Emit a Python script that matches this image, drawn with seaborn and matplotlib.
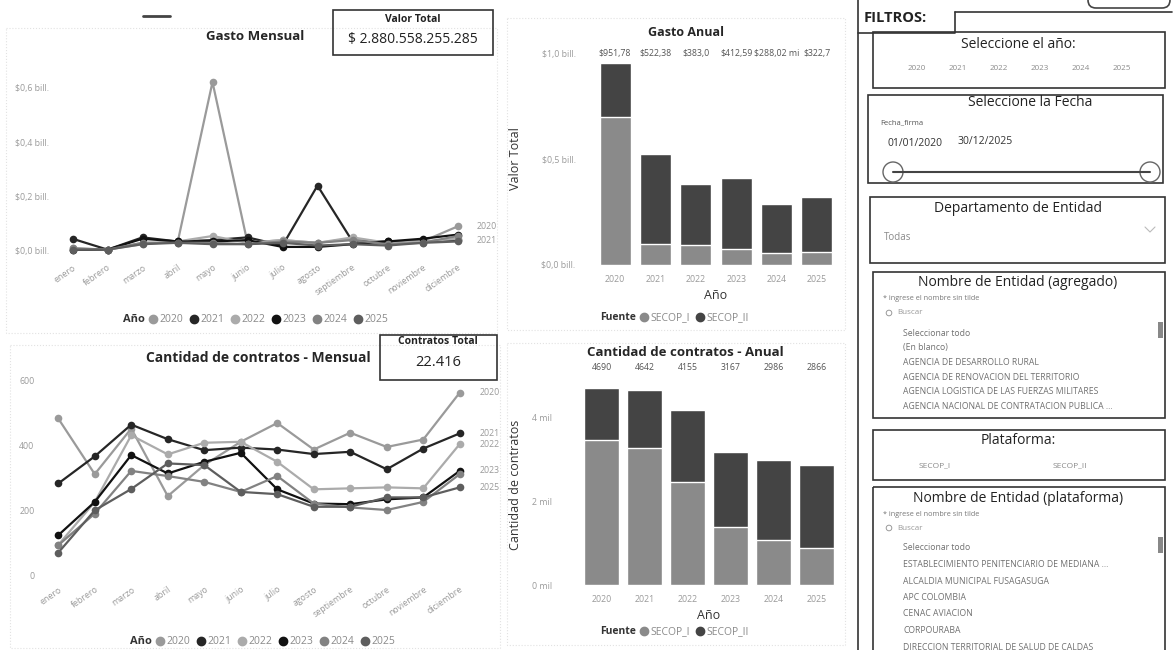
import numpy as np
import pandas as pd
import matplotlib
matplotlib.use("Agg")
import matplotlib.pyplot as plt
from matplotlib.patches import Rectangle, Circle, FancyBboxPatch
from matplotlib.lines import Line2D
from matplotlib.transforms import blended_transform_factory
import seaborn as sns

# ---------------- data ----------------
meses = ["enero", "febrero", "marzo", "abril", "mayo", "junio", "julio",
         "agosto", "septiembre", "octubre", "noviembre", "diciembre"]
anios = ["2020", "2021", "2022", "2023", "2024", "2025"]

# gasto mensual (billones de pesos)
gasto_2020 = [0.005, 0.005, 0.030, 0.030, 0.620, 0.030, 0.040, 0.030, 0.045, 0.030, 0.035, 0.090]
gasto_2021 = [0.045, 0.005, 0.050, 0.035, 0.040, 0.050, 0.020, 0.240, 0.035, 0.035, 0.035, 0.040]
gasto_2022 = [0.010, 0.005, 0.025, 0.035, 0.055, 0.030, 0.040, 0.030, 0.050, 0.030, 0.035, 0.045]
gasto_2023 = [0.005, 0.005, 0.045, 0.035, 0.035, 0.040, 0.015, 0.015, 0.025, 0.035, 0.045, 0.060]
gasto_2024 = [0.010, 0.005, 0.030, 0.030, 0.030, 0.025, 0.035, 0.030, 0.040, 0.025, 0.030, 0.055]
gasto_2025 = [0.005, 0.005, 0.025, 0.030, 0.025, 0.025, 0.030, 0.020, 0.025, 0.020, 0.030, 0.035]
gasto_series = [gasto_2020, gasto_2021, gasto_2022, gasto_2023, gasto_2024, gasto_2025]
gasto_etiquetas_fin = ["2020", "2021"]

# cantidad de contratos mensual
contratos_2020 = [484, 312, 453, 244, 340, 412, 470, 388, 440, 396, 419, 564]
contratos_2021 = [283, 367, 465, 420, 386, 394, 388, 374, 381, 327, 391, 438]
contratos_2022 = [93, 226, 432, 373, 409, 412, 350, 265, 268, 271, 268, 405]
contratos_2023 = [123, 226, 371, 314, 350, 378, 265, 221, 219, 234, 240, 322]
contratos_2024 = [92, 190, 322, 306, 288, 257, 306, 221, 209, 201, 226, 312]
contratos_2025 = [69, 200, 266, 345, 340, 257, 250, 211, 211, 240, 240, 271]
contratos_series = [contratos_2020, contratos_2021, contratos_2022,
                    contratos_2023, contratos_2024, contratos_2025]
contratos_etiquetas_fin = ["2020", "2021", "2022", "2023", "2025"]

# gasto anual (mil millones de pesos)
gasto_anual_total = [951.78, 522.38, 383.0, 412.59, 288.02, 322.7]
gasto_anual_secop1 = [700.0, 100.0, 92.0, 75.0, 55.0, 60.0]
gasto_anual_etiquetas = ["$951,78", "$522,38", "$383,0", "$412,59", "$288,02 mi", "$322,7"]

# contratos anual
contratos_anual_total = [4690, 4642, 4155, 3167, 2986, 2866]
contratos_anual_secop1 = [3450, 3260, 2450, 1380, 1070, 880]

valor_total_txt = "$ 2.880.558.255.285"
contratos_total_txt = "22.416"

anios_slicer = ["2020", "2021", "2022", "2023", "2024", "2025"]
entidades_agregado = ["Seleccionar todo", "(En blanco)", "AGENCIA DE DESARROLLO RURAL",
                      "AGENCIA DE RENOVACION DEL TERRITORIO",
                      "AGENCIA LOGISTICA DE LAS FUERZAS MILITARES",
                      "AGENCIA NACIONAL DE CONTRATACION PUBLICA ..."]
entidades_plataforma = ["Seleccionar todo", "ESTABLECIMIENTO PENITENCIARIO DE MEDIANA ...",
                        "ALCALDIA MUNICIPAL FUSAGASUGA", "APC COLOMBIA", "CENAC AVIACION",
                        "CORPOURABA", "DIRECCION TERRITORIAL DE SALUD DE CALDAS"]

# ---------------- style ----------------
sns.set_theme(style="white")
plt.rcParams["font.family"] = ["Open Sans", "DejaVu Sans"]

anio_colores = {"2020": "#9a9a9a", "2021": "#262626", "2022": "#ababab",
                "2023": "#111111", "2024": "#828282", "2025": "#5e5e5e"}
c_secop1 = "#8a8a8a"
c_secop2 = "#444444"
gris_tick = "#9a9a9a"

W, H = 1176, 650


def rect(l, t, r, b):
    return [l / W, 1 - b / H, (r - l) / W, (b - t) / H]


def fx(x):
    return x / W


def fy(y):
    return 1 - y / H


fig = plt.figure(figsize=(W / 100, H / 100), dpi=100, facecolor="white")

# background layer for boxes, titles and slicers
bg = fig.add_axes([0, 0, 1, 1])
bg.set_xlim(0, W)
bg.set_ylim(H, 0)
bg.axis("off")


def box(l, t, r, b, color="#333333", lw=1.2, ls="-"):
    bg.add_patch(Rectangle((l, t), r - l, b - t, fill=False, ec=color, lw=lw, ls=ls))


# panel borders (faint)
for l, t, r, b in [(6, 28, 497, 333), (507, 18, 845, 330), (10, 345, 500, 648), (507, 343, 845, 645)]:
    box(l, t, r, b, color="#e2e2e2", lw=0.8, ls=":")

bg.plot([143, 170], [16, 16], color="#444444", lw=2)

# KPI cards
box(333, 10, 493, 55)
bg.text(413, 19, "Valor Total", ha="center", va="center", fontsize=7.5, fontweight="bold", color="#222222")
bg.text(413, 39, valor_total_txt, ha="center", va="center", fontsize=10, color="#222222")
box(380, 335, 497, 380)
bg.text(438, 342, "Contratos Total", ha="center", va="center", fontsize=7.5, fontweight="bold", color="#222222")
bg.text(438, 362, contratos_total_txt, ha="center", va="center", fontsize=10.5, color="#222222")

# chart titles
bg.text(255, 37, "Gasto Mensual", ha="center", va="center", fontsize=9.5, fontweight="bold")
bg.text(258, 358, "Cantidad de contratos - Mensual", ha="center", va="center", fontsize=10, fontweight="bold")
bg.text(686, 32, "Gasto Anual", ha="center", va="center", fontsize=9, fontweight="bold")
bg.text(685, 352, "Cantidad de contratos - Anual", ha="center", va="center", fontsize=9.5, fontweight="bold")


def anio_legend(x_title, y):
    bg.text(x_title, y, "Año", ha="left", va="center", fontsize=8, fontweight="bold", color="#333333")
    handles = [Line2D([], [], marker="o", ls="", color=anio_colores[a], markersize=6) for a in anios]
    fig.legend(handles, anios, loc="center left", bbox_to_anchor=(fx(x_title + 24), fy(y)),
               ncol=6, frameon=False, fontsize=7.5, labelcolor="#8a8a8a",
               handletextpad=0.0, columnspacing=0.45, handlelength=1.2, borderaxespad=0, borderpad=0)


def fuente_legend(x_title, y):
    bg.text(x_title, y, "Fuente", ha="left", va="center", fontsize=7.5, fontweight="bold", color="#333333")
    handles = [Line2D([], [], marker="o", ls="", color=c, markersize=6) for c in (c_secop1, c_secop2)]
    fig.legend(handles, ["SECOP_I", "SECOP_II"], loc="center left", bbox_to_anchor=(fx(x_title + 38), fy(y)),
               ncol=2, frameon=False, fontsize=7.5, labelcolor="#8a8a8a",
               handletextpad=0.0, columnspacing=0.4, handlelength=1.2, borderaxespad=0, borderpad=0)


# ---------------- monthly line charts ----------------
def long_frame(series):
    rows = [(a, m, v) for a, s in zip(anios, series) for m, v in zip(meses, s)]
    return pd.DataFrame(rows, columns=["Año", "Mes", "Valor"])


def style_month_axis(ax):
    sns.despine(ax=ax, left=True, bottom=True)
    ax.set_xlim(-0.5, 11.5)
    ax.set_xlabel("")
    ax.set_ylabel("")
    ax.tick_params(axis="both", length=0, labelsize=6.3, labelcolor=gris_tick)
    ax.tick_params(axis="y", pad=4)
    for lab in ax.get_xticklabels():
        lab.set_rotation(35)
        lab.set_ha("right")
        lab.set_rotation_mode("anchor")
    ax.patch.set_alpha(0)


ax1 = fig.add_axes(rect(55, 75, 475, 258))
df_gasto = long_frame(gasto_series)
sns.lineplot(data=df_gasto, x="Mes", y="Valor", hue="Año", palette=anio_colores, marker="o",
             markersize=5.5, markeredgewidth=0, linewidth=1.6, sort=False, legend=False, ax=ax1)
ax1.set_ylim(-0.0257, 0.646)
ax1.set_yticks([0, 0.2, 0.4, 0.6])
ax1.set_yticklabels(["$0,0 bill.", "$0,2 bill.", "$0,4 bill.", "$0,6 bill."])
style_month_axis(ax1)
for line in ax1.lines:
    line.set_clip_on(False)
for a, s in zip(anios, gasto_series):
    if a in gasto_etiquetas_fin:
        ax1.text(11.55, s[-1], a, fontsize=6.3, color=gris_tick, va="center", ha="left")
anio_legend(123, 320)

ax2 = fig.add_axes(rect(40, 375, 478, 580))
df_contratos = long_frame(contratos_series)
sns.lineplot(data=df_contratos, x="Mes", y="Valor", hue="Año", palette=anio_colores, marker="o",
             markersize=5.5, markeredgewidth=0, linewidth=1.6, sort=False, legend=False, ax=ax2)
ax2.set_ylim(-15.4, 618.5)
ax2.set_yticks([0, 200, 400, 600])
ax2.set_yticklabels(["0", "200", "400", "600"])
style_month_axis(ax2)
for a, s in zip(anios, contratos_series):
    if a in contratos_etiquetas_fin:
        ax2.text(11.55, s[-1], a, fontsize=6.3, color=gris_tick, va="center", ha="left")
anio_legend(130, 642)

# ---------------- annual stacked bars ----------------
def style_bar_axis(ax, ylabel):
    sns.despine(ax=ax, left=True, bottom=True)
    ax.set_xlim(-0.5, 5.5)
    ax.set_xlabel("Año", fontsize=9, color="#333333", labelpad=4)
    ax.set_ylabel(ylabel, fontsize=9, color="#333333")
    ax.tick_params(axis="both", length=0, labelsize=6.3, labelcolor=gris_tick)
    ax.patch.set_alpha(0)


ax3 = fig.add_axes(rect(595, 48, 837, 270))
df_ga = pd.DataFrame({"Año": anios,
                      "Total": np.array(gasto_anual_total) / 1000,
                      "SECOP_I": np.array(gasto_anual_secop1) / 1000})
sns.barplot(data=df_ga, x="Año", y="Total", color=c_secop2, saturation=1, width=0.77, ax=ax3)
sns.barplot(data=df_ga, x="Año", y="SECOP_I", color=c_secop1, saturation=1, width=0.77, ax=ax3)
ax3.set_ylim(-0.0236, 1.0236)
ax3.set_yticks([0, 0.5, 1.0])
ax3.set_yticklabels(["$0,0 bill.", "$0,5 bill.", "$1,0 bill."])
style_bar_axis(ax3, "Valor Total")
ax3.tick_params(axis="y", pad=14)
ax3.yaxis.set_label_coords((522 - 595) / (837 - 595), 0.5)
for i, lab in enumerate(gasto_anual_etiquetas):
    ax3.text(i, 1.0, lab, ha="center", va="center", fontsize=6.3, color="#555555")
fuente_legend(600, 318)

ax4 = fig.add_axes(rect(580, 380, 838, 590))
df_ca = pd.DataFrame({"Año": anios, "Total": contratos_anual_total, "SECOP_I": contratos_anual_secop1})
sns.barplot(data=df_ca, x="Año", y="Total", color=c_secop2, saturation=1, width=0.8, ax=ax4)
sns.barplot(data=df_ca, x="Año", y="SECOP_I", color=c_secop1, saturation=1, width=0.8, ax=ax4)
ax4.set_ylim(-119, 4881)
ax4.set_yticks([0, 2000, 4000])
ax4.set_yticklabels(["0 mil", "2 mil", "4 mil"])
style_bar_axis(ax4, "Cantidad de contratos")
ax4.tick_params(axis="y", pad=20)
ax4.yaxis.set_label_coords((522 - 580) / (838 - 580), 0.5)
trans4 = blended_transform_factory(ax4.transData, fig.transFigure)
for i, v in enumerate(contratos_anual_total):
    ax4.text(i, fy(368), str(v), ha="center", va="center", fontsize=6.3, color="#555555", transform=trans4)
fuente_legend(600, 632)

# ---------------- filters panel ----------------
bg.plot([858, 858], [0, H], color="#333333", lw=1.2)
bg.plot([858, 955, 955], [33, 33, 12], color="#333333", lw=1.2)
bg.plot([955, 1172], [12, 12], color="#333333", lw=1.2)
bg.add_patch(FancyBboxPatch((1088, -20), 82, 28, boxstyle="round,pad=0,rounding_size=8",
                            fill=False, ec="#444444", lw=1.2))
bg.text(864, 18, "FILTROS:", ha="left", va="center", fontsize=10.5, fontweight="bold", color="#222222")

# año slicer
box(873, 32, 1165, 88)
bg.text(1018, 44, "Seleccione el año:", ha="center", va="center", fontsize=10, color="#222222")
for i, a in enumerate(anios_slicer):
    bg.text(917 + i * 41, 69, a, ha="center", va="center", fontsize=5.8, color="#8a8a8a")

# fecha slicer
box(868, 95, 1163, 183)
bg.text(1030, 103, "Seleccione la Fecha", ha="center", va="center", fontsize=10, color="#222222")
bg.text(880, 123, "Fecha_firma", ha="left", va="center", fontsize=5.5, color="#555555")
bg.text(888, 144, "01/01/2020", ha="left", va="center", fontsize=7.5, color="#333333")
bg.text(958, 142, "30/12/2025", ha="left", va="center", fontsize=7.5, color="#333333")
bg.plot([893, 1150], [172, 172], color="#444444", lw=1.5)
for cx in (893, 1150):
    bg.add_patch(Circle((cx, 172), 10, fc="white", ec="#666666", lw=1.0))

# departamento slicer
box(870, 197, 1165, 263)
bg.text(1018, 209, "Departamento de Entidad", ha="center", va="center", fontsize=10, color="#222222")
bg.text(884, 238, "Todas", ha="left", va="center", fontsize=7, color="#8a8a8a")
bg.plot([1145, 1150, 1155], [227, 232, 227], color="#bbbbbb", lw=0.8)


def lista(top, bottom, titulo, items, y_items, step):
    box(873, top, 1165, bottom)
    bg.text(1018, top + 11, titulo, ha="center", va="center", fontsize=10, color="#222222")
    bg.text(883, top + 27, "* ingrese el nombre sin tilde", ha="left", va="center", fontsize=5.2, color="#777777")
    bg.add_patch(Circle((889, top + 41), 2.8, fill=False, ec="#999999", lw=0.7))
    bg.text(897, top + 41, "Buscar", ha="left", va="center", fontsize=5.8, color="#999999")
    bg.add_patch(Rectangle((1158, top + 50), 5, 16, fc="#888888", ec="none"))
    for i, it in enumerate(items):
        y = y_items + i * step
        if y < H - 2:
            bg.text(903, y, it, ha="left", va="center", fontsize=6.2, color="#707070")


lista(272, 418, "Nombre de Entidad (agregado)", entidades_agregado, 333, 14.7)

# plataforma slicer
box(873, 430, 1165, 480)
bg.text(1018, 441, "Plataforma:", ha="center", va="center", fontsize=10, color="#222222")
bg.text(935, 466, "SECOP_I", ha="center", va="center", fontsize=6, color="#8a8a8a")
bg.text(1070, 466, "SECOP_II", ha="center", va="center", fontsize=6, color="#8a8a8a")

lista(487, 660, "Nombre de Entidad (plataforma)", entidades_plataforma, 548, 16.5)

fig.savefig("out.png", dpi=100, facecolor="white")
